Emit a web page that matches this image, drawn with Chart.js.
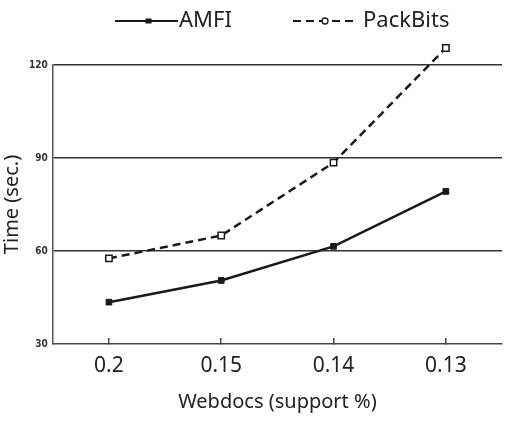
<!DOCTYPE html>
<html>
<head>
<meta charset="utf-8">
<script src="https://cdn.jsdelivr.net/npm/chart.js@4/dist/chart.umd.min.js"></script>
<style>
  html, body { margin: 0; padding: 0; background: #fff; }
  #wrap { width: 523px; height: 422px; }
</style>
</head>
<body>
<div id="wrap"><canvas id="chart"></canvas></div>
<script>
const supportLabels = ['0.2', '0.15', '0.14', '0.13'];
const amfiTimes = [43.5, 50.5, 61.5, 79.2];
const packBitsTimes = [57.6, 65, 88.5, 125.5];
const yTicks = [30, 60, 90, 120];

const ink = '#1a1a1a';

// legend drawn by hand: line sample with a small marker, then the label
const legendSpots = [
  { x: 115, len: 63, textX: 179 },
  { x: 293, len: 60, textX: 363 }
];
const sampleLegend = {
  id: 'sampleLegend',
  afterDraw(chart) {
    const c = chart.ctx;
    const y = 21;
    c.save();
    chart.data.datasets.forEach((ds, i) => {
      const s = legendSpots[i];
      c.strokeStyle = ink;
      c.lineWidth = 2;
      c.setLineDash(ds.borderDash || []);
      c.beginPath();
      c.moveTo(s.x, y);
      c.lineTo(s.x + s.len, y);
      c.stroke();
      c.setLineDash([]);
      c.lineWidth = 1.3;
      const mx = s.x + s.len / 2 + 2;
      if (i === 0) {
        c.fillStyle = ink;
        c.fillRect(mx - 3, y - 2.5, 6, 5);
      } else {
        c.fillStyle = '#fff';
        c.beginPath();
        c.arc(mx, y, 3, 0, Math.PI * 2);
        c.fill();
        c.stroke();
      }
      c.fillStyle = '#222';
      c.font = '22px "Noto Sans"';
      c.textBaseline = 'middle';
      c.fillText(ds.label, s.textX, y);
    });
    c.restore();
  }
};

// let the top point (above the 120 line) still be drawn
const roomAbove = {
  id: 'roomAbove',
  beforeDatasetsDraw(chart) {
    chart._savedTop = chart.chartArea.top;
    chart.chartArea.top -= 30;
  },
  afterDatasetsDraw(chart) {
    chart.chartArea.top = chart._savedTop;
  }
};

const ctx = document.getElementById('chart').getContext('2d');
const chart = new Chart(ctx, {
  type: 'line',
  data: {
    labels: supportLabels,
    datasets: [
      {
        label: 'AMFI',
        data: amfiTimes,
        borderColor: ink,
        borderWidth: 2.5,
        pointStyle: 'rect',
        pointRadius: 4,
        pointBackgroundColor: ink,
        pointBorderColor: ink,
        pointBorderWidth: 1,
        clip: false
      },
      {
        label: 'PackBits',
        data: packBitsTimes,
        borderColor: ink,
        borderWidth: 2.5,
        borderDash: [8, 5],
        pointStyle: 'rect',
        pointRadius: 4.5,
        pointBackgroundColor: '#fff',
        pointBorderColor: ink,
        pointBorderWidth: 1.5,
        clip: false
      }
    ]
  },
  options: {
    responsive: true,
    maintainAspectRatio: false,
    animation: false,
    layout: {
      padding: { left: 0, right: 21, top: 65, bottom: 10 }
    },
    scales: {
      x: {
        offset: true,
        grid: {
          drawOnChartArea: false,
          tickLength: -6,
          color: '#444',
          lineWidth: 1.5
        },
        border: { color: '#444', width: 1.5 },
        ticks: {
          color: '#222',
          padding: 15,
          font: { family: 'Noto Sans', size: 21 }
        },
        title: {
          display: true,
          text: 'Webdocs (support %)',
          color: '#222',
          padding: { top: 0, bottom: 0 },
          font: { family: 'Noto Sans', size: 20, lineHeight: 0.94 }
        }
      },
      y: {
        min: 30,
        max: 120,
        afterBuildTicks: (axis) => {
          axis.ticks = yTicks.map(v => ({ value: v }));
        },
        grid: {
          drawTicks: false,
          color: (c) => c.tick && c.tick.value === 30 ? 'rgba(0,0,0,0)' : '#333',
          lineWidth: 1.5
        },
        border: { color: '#555', width: 1.5 },
        ticks: {
          color: '#333',
          padding: 5,
          font: { family: 'DejaVu Sans Condensed', size: 10, weight: 'bold' }
        },
        title: {
          display: true,
          text: 'Time (sec.)',
          color: '#222',
          padding: { top: 0, bottom: 0 },
          font: { family: 'Noto Sans', size: 20 }
        }
      }
    },
    plugins: {
      legend: { display: false },
      tooltip: { enabled: false }
    }
  },
  plugins: [sampleLegend, roomAbove]
});
</script>
</body>
</html>
